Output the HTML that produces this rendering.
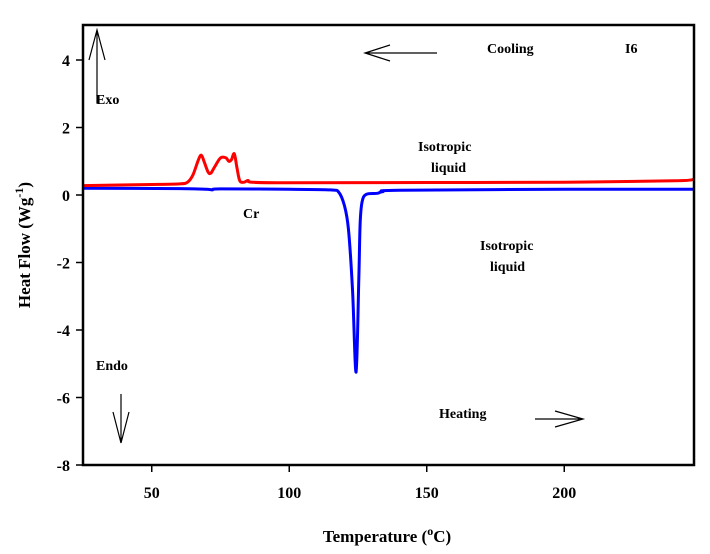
<!DOCTYPE html>
<html><head><meta charset="utf-8"><style>
body{margin:0;background:#fff}
svg text{font-family:"Liberation Serif",serif;font-weight:bold;fill:#000}
</style></head><body>
<svg width="710" height="549" viewBox="0 0 710 549">
<g id="plot"></g>
<rect x="83" y="25" width="611" height="440" fill="none" stroke="#000" stroke-width="2.5"/>
<g id="axes"></g>
<text x="30" y="245" font-size="17" text-anchor="middle" transform="rotate(-90 30 245)">Heat Flow (Wg<tspan dy="-7" font-size="12">-1</tspan><tspan dy="7">)</tspan></text>
<text x="387" y="542" font-size="17" text-anchor="middle">Temperature (<tspan dy="-7" font-size="12">o</tspan><tspan dy="7">C)</tspan></text>
<g stroke="#000" stroke-width="1.2" fill="none">
<path d="M97 103 V30 M89 60 L97 30 L105 60"/>
<path d="M121 394 V443 M113 412 L121 443 L129 412"/>
<path d="M437 53 H365 M390 45 L365 53 L390 61"/>
<path d="M535 419 H583 M555 411 L583 419 L555 427"/>
</g>
<text x="96" y="104" font-size="14">Exo</text>
<text x="96" y="370" font-size="14">Endo</text>
<text x="487" y="53" font-size="14">Cooling</text>
<text x="625" y="53" font-size="14">I6</text>
<text x="418" y="151" font-size="14">Isotropic</text>
<text x="431" y="172" font-size="14">liquid</text>
<text x="243" y="218" font-size="14">Cr</text>
<text x="480" y="250" font-size="14">Isotropic</text>
<text x="490" y="271" font-size="14">liquid</text>
<text x="439" y="418" font-size="14">Heating</text>
</svg>
<script>
const xTicks=[50,100,150,200];
const yTicks=[4,2,0,-2,-4,-6,-8];
const coolT=[25,50,60,63,65,67,68,69,70.5,71.5,73,75,77,78,79,80,81,82,83.5,85,86.5,100,150,200,240,247];
const coolV=[0.28,0.31,0.33,0.38,0.6,1.05,1.18,1.0,0.68,0.65,0.85,1.1,1.1,1.0,1.05,1.22,0.8,0.42,0.38,0.43,0.38,0.36,0.37,0.38,0.42,0.46];
const heatT=[25,60,70,72,75,100,115,118,120,121.5,123,124.3,125.3,125.8,126.5,128,132,134,140,200,247];
const heatV=[0.2,0.19,0.17,0.15,0.18,0.17,0.15,0.08,-0.3,-1,-2.8,-5.25,-2.5,-0.8,-0.2,0.02,0.05,0.1,0.14,0.17,0.17];
const X=t=>83+(t-25)*2.75, Y=v=>195-v*33.75;
const NS='http://www.w3.org/2000/svg';
const axes=document.getElementById('axes'), plot=document.getElementById('plot');
xTicks.forEach(t=>{
 const l=document.createElementNS(NS,'line');
 l.setAttribute('x1',X(t));l.setAttribute('x2',X(t));l.setAttribute('y1',465);l.setAttribute('y2',472);l.setAttribute('stroke','#000');l.setAttribute('stroke-width','1.5');
 
 
 axes.appendChild(l);
 const s=document.createElementNS(NS,'text');
 s.setAttribute('x',X(t));s.setAttribute('y',498);s.setAttribute('font-size','16');s.setAttribute('text-anchor','middle');s.textContent=t;
 
 
 axes.appendChild(s);
});
yTicks.forEach(v=>{
 const l=document.createElementNS(NS,'line');
 l.setAttribute('x1',76);l.setAttribute('x2',83);l.setAttribute('y1',Y(v));l.setAttribute('y2',Y(v));l.setAttribute('stroke','#000');l.setAttribute('stroke-width','1.5');
 
 
 axes.appendChild(l);
 const s=document.createElementNS(NS,'text');
 s.setAttribute('x',70);s.setAttribute('y',Y(v)+6);s.setAttribute('font-size','16');s.setAttribute('text-anchor','end');s.textContent=v;
 
 
 axes.appendChild(s);
});
function line(T,V,c,name){
 const P=T.map((t,i)=>[X(t),Y(V[i])]);
 let d='M'+P[0][0].toFixed(1)+' '+P[0][1].toFixed(1);
 for(let i=0;i<P.length-1;i++){
  const p0=P[Math.max(0,i-1)],p1=P[i],p2=P[i+1],p3=P[Math.min(P.length-1,i+2)];
  const c1=[p1[0]+(p2[0]-p0[0])/6,p1[1]+(p2[1]-p0[1])/6];
  const c2=[p2[0]-(p3[0]-p1[0])/6,p2[1]-(p3[1]-p1[1])/6];
  d+=' C'+c1.map(n=>n.toFixed(1)).join(' ')+' '+c2.map(n=>n.toFixed(1)).join(' ')+' '+p2[0].toFixed(1)+' '+p2[1].toFixed(1);
 }
 const p=document.createElementNS(NS,'path');
 p.setAttribute('d',d);
 p.setAttribute('fill','none');p.setAttribute('stroke',c);p.setAttribute('stroke-width','3');p.setAttribute('stroke-linejoin','round');
 
 
 plot.appendChild(p);
}
line(heatT,heatV,'#0000ff','heating-curve');
line(coolT,coolV,'#ff0000','cooling-curve');
</script>
</body></html>
